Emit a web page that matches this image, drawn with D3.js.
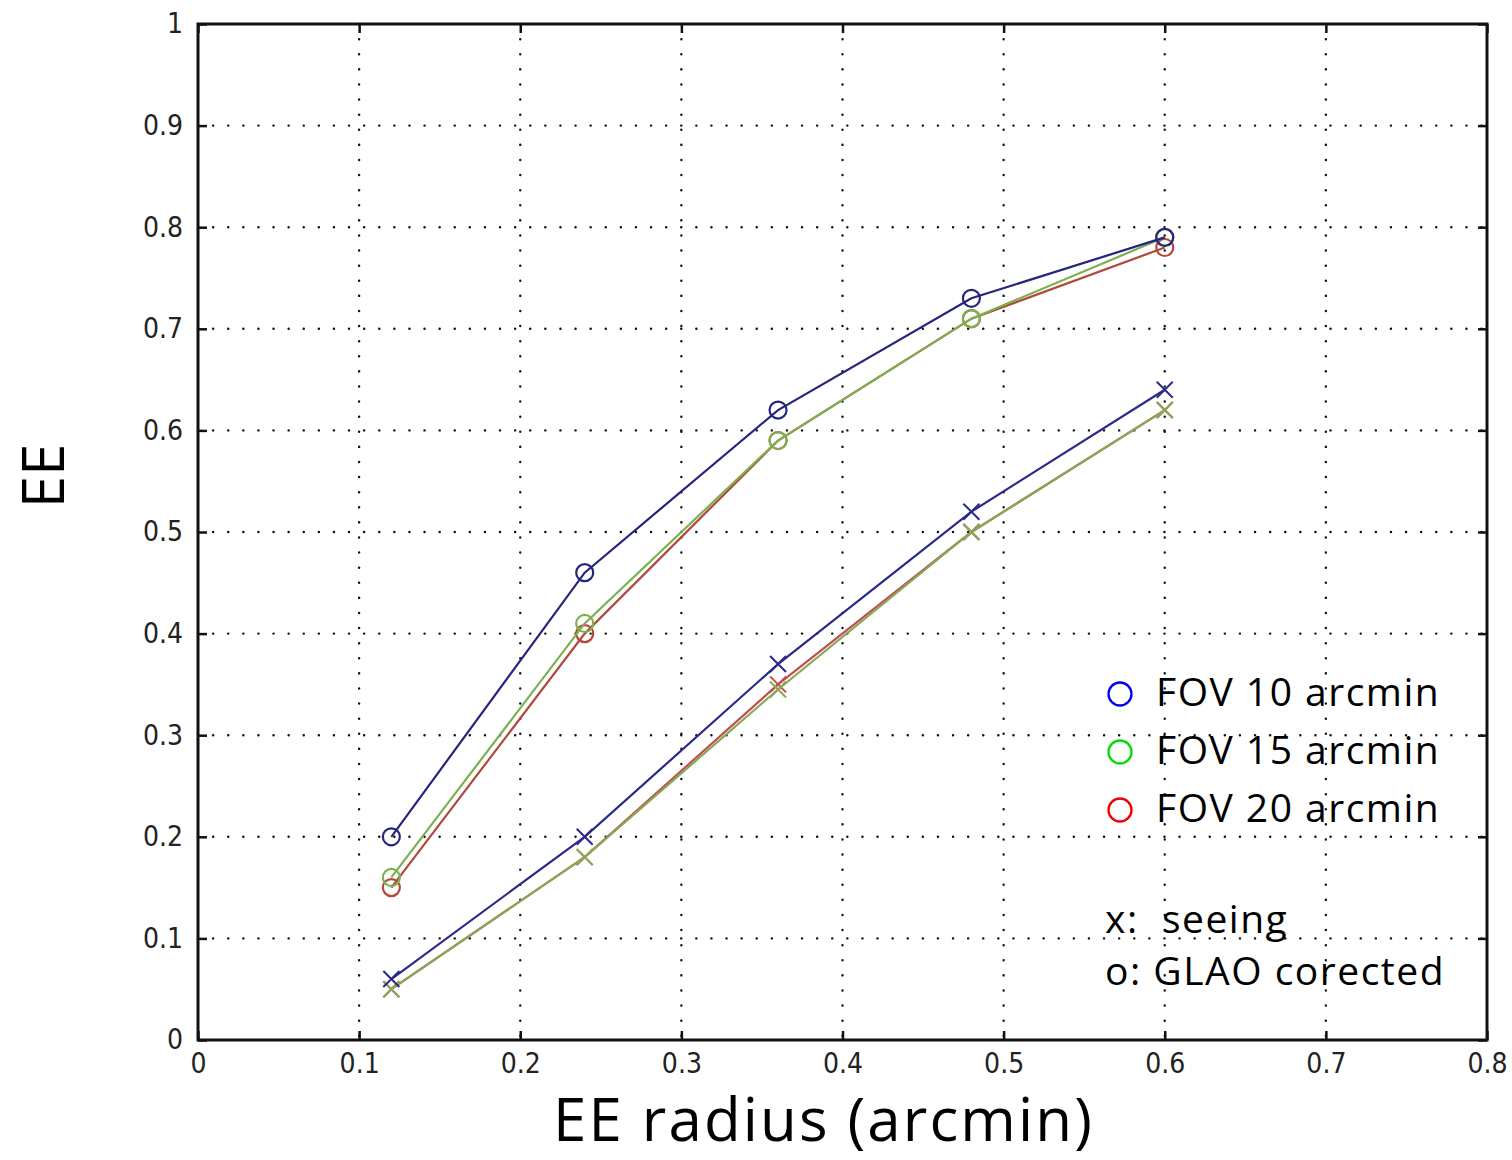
<!DOCTYPE html>
<html>
<head>
<meta charset="utf-8">
<script src="https://cdn.jsdelivr.net/npm/d3@7"></script>
<style>
  body { margin: 0; background: #fff; }
  svg { display: block; }
</style>
</head>
<body>
<svg class="chart" width="1512" height="1160"></svg>
<script>
// EE radius (arcmin)
const radius = [0.12, 0.24, 0.36, 0.48, 0.6];

// GLAO corrected (o)
const glao10 = [0.2, 0.46, 0.62, 0.73, 0.79];
const glao15 = [0.16, 0.41, 0.59, 0.71, 0.79];
const glao20 = [0.15, 0.4, 0.59, 0.71, 0.78];

// seeing (x)
const seeing10 = [0.06, 0.2, 0.37, 0.52, 0.64];
const seeing15 = [0.05, 0.18, 0.345, 0.5, 0.62];
const seeing20 = [0.05, 0.18, 0.35, 0.5, 0.62];

const xTicks = [0, 0.1, 0.2, 0.3, 0.4, 0.5, 0.6, 0.7, 0.8];
const yTicks = [0, 0.1, 0.2, 0.3, 0.4, 0.5, 0.6, 0.7, 0.8, 0.9, 1];
const legendLabels = ["FOV 10 arcmin", "FOV 15 arcmin", "FOV 20 arcmin"];
const noteLabels = ["x:  seeing", "o: GLAO corected"];

const margin = { top: 24, right: 25, bottom: 120, left: 198 };
const width = 1512 - margin.left - margin.right;
const height = 1160 - margin.top - margin.bottom;

const svg = d3.select(".chart");
const g = svg.append("g").attr("transform", `translate(${margin.left},${margin.top})`);

const x = d3.scaleLinear().domain([0, 0.8]).range([0, width]);
const y = d3.scaleLinear().domain([0, 1]).range([height, 0]);

// dotted grid
g.append("g")
  .selectAll("line")
  .data(xTicks.slice(1, -1))
  .join("line")
  .attr("x1", (d) => x(d))
  .attr("x2", (d) => x(d))
  .attr("y1", 0)
  .attr("y2", height)
  .attr("stroke", "#111")
  .attr("stroke-width", 2.4)
  .attr("stroke-dasharray", "0.1,15")
  .attr("stroke-linecap", "round");

g.append("g")
  .selectAll("line")
  .data(yTicks.slice(1, -1))
  .join("line")
  .attr("x1", 0)
  .attr("x2", width)
  .attr("y1", (d) => y(d))
  .attr("y2", (d) => y(d))
  .attr("stroke", "#111")
  .attr("stroke-width", 2.4)
  .attr("stroke-dasharray", "0.1,15")
  .attr("stroke-linecap", "round");

// axes with inner ticks
const tickFont = (sel) =>
  sel.selectAll("text")
    .attr("font-family", "'DejaVu Sans', sans-serif")
    .attr("font-stretch", "condensed")
    .attr("font-size", 28)
    .attr("fill", "#222");

const xAxis = g.append("g")
  .attr("transform", `translate(0,${height})`)
  .call(d3.axisBottom(x).tickValues(xTicks).tickFormat(d3.format("")).tickSizeInner(-9).tickSizeOuter(0).tickPadding(13));
tickFont(xAxis);

const yAxis = g.append("g")
  .call(d3.axisLeft(y).tickValues(yTicks).tickFormat(d3.format("")).tickSizeInner(-9).tickSizeOuter(0).tickPadding(15));
tickFont(yAxis);

g.append("g")
  .call(d3.axisTop(x).tickValues(xTicks).tickFormat("").tickSizeInner(-9).tickSizeOuter(0));
g.append("g")
  .attr("transform", `translate(${width},0)`)
  .call(d3.axisRight(y).tickValues(yTicks).tickFormat("").tickSizeInner(-9).tickSizeOuter(0));

g.selectAll(".domain").remove();
g.selectAll(".tick line").attr("stroke", "#111").attr("stroke-width", 2.5);

g.append("rect")
  .attr("width", width)
  .attr("height", height)
  .attr("fill", "none")
  .attr("stroke", "#111")
  .attr("stroke-width", 3);

// series
const series = [
  { values: seeing20, line: "#c05050", marker: "x" },
  { values: seeing15, line: "#88a858", marker: "x" },
  { values: seeing10, line: "#2a2a8a", marker: "x" },
  { values: glao20, line: "#b04a3a", marker: "o" },
  { values: glao15, line: "#7cb050", marker: "o" },
  { values: glao10, line: "#25257e", marker: "o" },
];

const line = d3.line().x((d, i) => x(radius[i])).y((d) => y(d));

series.forEach(({ values, line: color, marker }) => {
  g.append("path")
    .datum(values)
    .attr("d", line)
    .attr("fill", "none")
    .attr("stroke", color)
    .attr("stroke-width", 2.2);

  const pts = g.append("g")
    .selectAll("g")
    .data(values)
    .join("g")
    .attr("transform", (d, i) => `translate(${x(radius[i])},${y(d)})`);

  if (marker === "o") {
    pts.append("circle")
      .attr("r", 8.5)
      .attr("fill", "none")
      .attr("stroke", color)
      .attr("stroke-width", 2.2);
  } else {
    pts.append("path")
      .attr("d", "M-8,-8L8,8M-8,8L8,-8")
      .attr("stroke", color)
      .attr("stroke-width", 2);
  }
});

// legend
const legendColors = ["#0000ee", "#00dd00", "#ee0000"];
const legend = svg.append("g");
legendLabels.forEach((label, i) => {
  const ly = 694 + i * 58;
  legend.append("circle")
    .attr("cx", 1120)
    .attr("cy", ly)
    .attr("r", 11.5)
    .attr("fill", "none")
    .attr("stroke", legendColors[i])
    .attr("stroke-width", 2.3);
  legend.append("text")
    .attr("x", 1156)
    .attr("y", ly + 12)
    .attr("font-family", "'Open Sans', sans-serif")
    .attr("font-size", 39)
    .attr("letter-spacing", 1.5)
    .attr("fill", "#000")
    .text(label);
});

noteLabels.forEach((label, i) => {
  svg.append("text")
    .attr("x", 1105)
    .attr("y", 933 + i * 52)
    .attr("font-family", "'Open Sans', sans-serif")
    .attr("font-size", 39)
    .attr("letter-spacing", 1.5)
    .attr("fill", "#000")
    .attr("xml:space", "preserve")
    .style("white-space", "pre")
    .text(label);
});

// axis titles
svg.append("text")
  .attr("x", 553)
  .attr("y", 1141)
  .attr("font-family", "'Open Sans', sans-serif")
  .attr("font-size", 60)
  .attr("textLength", 539)
  .attr("lengthAdjust", "spacing")
  .attr("fill", "#000")
  .text("EE radius (arcmin)");

svg.append("text")
  .attr("transform", "translate(64,476) rotate(-90)")
  .attr("text-anchor", "middle")
  .attr("font-family", "'Open Sans', sans-serif")
  .attr("font-size", 58)
  .attr("fill", "#000")
  .text("EE");
</script>
</body>
</html>
